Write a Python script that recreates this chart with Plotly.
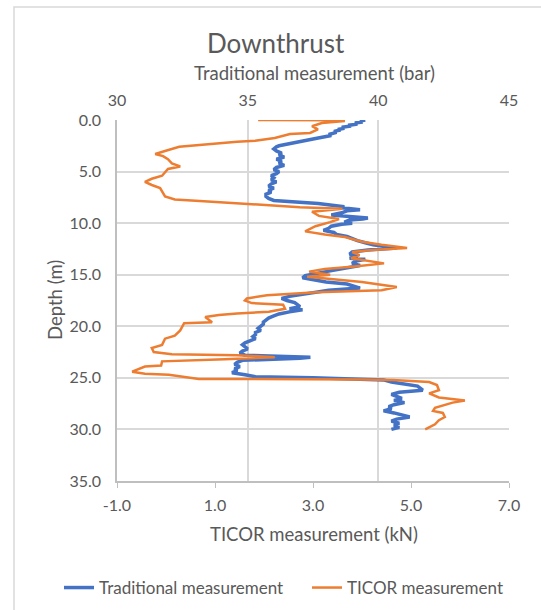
import plotly.graph_objects as go

# ---------------- data ----------------
trad_depth = [0.0, 0.1, 0.2, 0.3, 0.4, 0.5, 0.6, 0.7, 0.8, 0.9, 1.0, 1.1, 1.2, 1.3, 1.4, 1.5, 1.6, 1.7, 1.8, 1.9,
              2.0, 2.1, 2.2, 2.3, 2.4, 2.5, 2.6, 2.8, 3.0, 3.2, 3.4, 3.6, 3.8, 4.0, 4.2, 4.4, 4.6, 4.8, 5.0, 5.2,
              5.4, 5.6, 5.8, 6.0, 6.2, 6.4, 6.6, 6.8, 7.0, 7.2, 7.4, 7.6, 7.8, 7.9, 8.0, 8.1, 8.2, 8.3, 8.4, 8.5,
              8.6, 8.7, 8.8, 9.0, 9.2, 9.3, 9.4, 9.5, 9.6, 9.7, 9.9, 10.0, 10.1, 10.3, 10.5, 10.7, 10.9, 11.1, 11.3, 11.5,
              11.7, 11.9, 12.1, 12.3, 12.4, 12.6, 12.8, 13.0, 13.2, 13.4, 13.5, 13.7, 13.9, 14.1, 14.3, 14.5, 14.7, 14.9, 15.1, 15.3,
              15.5, 15.7, 15.9, 16.1, 16.3, 16.5, 16.7, 16.9, 17.1, 17.3, 17.5, 17.7, 17.9, 18.1, 18.3, 18.4, 18.6, 18.8, 19.0, 19.2,
              19.4, 19.6, 19.8, 20.0, 20.2, 20.4, 20.6, 20.8, 21.0, 21.2, 21.4, 21.6, 21.8, 22.0, 22.2, 22.4, 22.6, 22.8, 22.9, 23.0,
              23.1, 23.2, 23.3, 23.5, 23.7, 23.9, 24.1, 24.3, 24.5, 24.7, 24.9, 25.0, 25.1, 25.2, 25.4, 25.6, 25.8, 26.0, 26.2, 26.4,
              26.6, 26.8, 27.0, 27.2, 27.4, 27.6, 27.8, 28.0, 28.2, 28.4, 28.6, 28.8, 29.0, 29.2, 29.4, 29.6, 29.8, 30.0]
trad_bar = [39.5, 39.3, 39.4, 39.1, 39.2, 38.9, 38.9, 38.6, 38.7, 38.5, 38.5, 38.3, 38.4, 38.2, 38.1, 38.2, 37.9, 37.8, 37.6, 37.4,
            37.2, 37.0, 36.7, 36.5, 36.3, 36.2, 36.1, 36.0, 36.1, 36.3, 36.2, 36.4, 36.1, 36.3, 36.2, 36.4, 36.1, 36.0, 36.2, 36.1,
            35.9, 36.0, 35.9, 36.1, 35.9, 35.8, 36.0, 35.8, 35.9, 35.7, 35.7, 35.8, 36.0, 36.7, 37.2, 37.7, 38.0, 38.4, 38.7, 38.6,
            39.1, 39.3, 38.8, 38.6, 38.2, 38.8, 39.2, 39.6, 39.4, 38.9, 38.7, 39.0, 38.6, 38.2, 38.1, 37.9, 38.3, 38.4, 38.8, 39.0,
            39.2, 39.5, 39.8, 40.3, 40.7, 39.6, 39.0, 38.9, 39.2, 38.9, 39.5, 39.1, 39.0, 39.3, 38.8, 38.3, 38.0, 37.6, 37.2, 37.1,
            37.6, 38.0, 38.8, 39.1, 39.3, 38.1, 37.6, 36.9, 36.6, 36.3, 36.5, 36.8, 36.9, 37.0, 36.6, 37.1, 36.6, 36.2, 36.0, 35.8,
            35.7, 35.6, 35.6, 35.5, 35.4, 35.5, 35.3, 35.3, 35.2, 35.3, 35.1, 34.9, 34.8, 34.9, 35.0, 34.8, 34.7, 34.9, 36.2, 37.4,
            37.0, 35.4, 34.8, 34.6, 34.5, 34.7, 34.5, 34.6, 34.4, 34.9, 35.3, 37.5, 39.8, 40.2, 40.5, 41.0, 41.5, 41.6, 41.7, 40.8,
            40.5, 40.7, 40.9, 40.6, 41.0, 40.6, 40.4, 40.5, 40.2, 40.6, 40.9, 41.2, 40.7, 40.5, 40.8, 40.6, 40.8, 40.5]

ticor_depth = [0.0, 0.02, 0.1, 0.3, 0.6, 0.9, 1.25, 1.35, 1.75, 2.0, 2.1, 2.4, 2.6, 3.0, 3.3, 3.5, 3.8, 4.2, 4.5, 4.75,
               5.4, 5.7, 6.0, 6.3, 6.6, 7.4, 7.7, 7.85, 8.05, 8.25, 8.45, 8.6, 8.9, 9.3, 9.6, 9.9, 10.3, 10.6, 10.8, 11.1,
               11.35, 11.8, 12.1, 12.4, 12.6, 12.8, 13.1, 13.4, 13.9, 14.2, 14.45, 14.7, 15.0, 15.2, 15.5, 15.7, 16.2, 16.5, 16.7, 17.0,
               17.3, 17.5, 17.75, 17.9, 18.3, 18.6, 18.75, 18.9, 19.1, 19.6, 19.7, 20.4, 20.9, 21.2, 21.8, 22.1, 22.5, 22.7, 22.8, 23.0,
               23.2, 23.4, 23.8, 23.9, 24.4, 24.6, 24.7, 24.9, 25.1, 25.15, 25.2, 25.4, 25.7, 26.2, 26.5, 26.9, 27.2, 27.4, 27.9, 28.2,
               28.4, 28.8, 29.1, 29.5, 29.8, 30.0]
ticor_kn = [1.88, 3.5, 3.65, 3.18, 2.98, 3.10, 2.94, 2.53, 2.22, 1.82, 1.45, 0.80, 0.27, -0.02, -0.22, -0.06, 0.04, 0.12, 0.29, 0.04,
            -0.08, -0.29, -0.43, -0.29, -0.12, -0.02, 0.18, 0.69, 1.45, 2.22, 2.73, 3.60, 2.98, 3.12, 3.53, 3.35, 3.05, 2.92, 2.84, 3.24,
            3.65, 4.0, 4.4, 4.92, 4.2, 3.8, 3.95, 3.78, 4.45, 3.85, 3.24, 2.92, 3.35, 2.88, 3.49, 4.0, 4.71, 4.4, 3.08, 2.06,
            1.65, 1.61, 1.75, 2.39, 2.43, 2.10, 1.45, 1.08, 0.80, 0.94, 0.37, 0.29, 0.18, -0.02, -0.08, -0.29, -0.25, 0.12, 1.45, 2.22,
            1.2, -0.08, -0.10, -0.43, -0.69, -0.43, 0.06, 0.35, 0.67, 4.0, 4.63, 5.37, 5.53, 5.57, 5.37, 5.57, 6.10, 5.85, 5.49, 5.45,
            5.65, 5.69, 5.57, 5.49, 5.37, 5.29]

depth_ticks = [0, 5, 10, 15, 20, 25, 30, 35]
bar_ticks = [30, 35, 40, 45]
kn_ticks = [-1, 1, 3, 5, 7]

# ---------------- figure ----------------
FONT = "Lato"
TXT = "#595959"
GRID = "#d9d9d9"
AXL = "#bfbfbf"

fig = go.Figure()
fig.add_trace(go.Scatter(x=trad_bar, y=trad_depth, mode="lines", name="Traditional measurement",
                         line=dict(color="#4472C4", width=3.5), xaxis="x", yaxis="y"))
fig.add_trace(go.Scatter(x=ticor_kn, y=ticor_depth, mode="lines", name="TICOR measurement",
                         line=dict(color="#ED7D31", width=2.5), xaxis="x2", yaxis="y"))

W, H = 541, 610
L, R, T, B = 117, 32, 120, 129
pw, ph = W - L - R, H - T - B


def px(x):
    return (x - L) / pw


def py(y):
    return (H - B - y) / ph


fig.update_layout(
    width=W, height=H,
    margin=dict(l=L, r=R, t=T, b=B, autoexpand=False),
    paper_bgcolor="white", plot_bgcolor="white",
    font=dict(family=FONT, color=TXT, size=16),
    showlegend=True,
    legend=dict(orientation="h", x=px(59), xanchor="left", y=py(588), yanchor="middle",
                font=dict(size=17, color=TXT), bgcolor="rgba(0,0,0,0)",
                entrywidth=203, tracegroupgap=0),
    xaxis=dict(side="top", range=[30, 45], tickvals=bar_ticks, ticktext=[str(v) for v in bar_ticks],
               showgrid=True, gridcolor=GRID, gridwidth=1.5, zeroline=False,
               showline=False, ticks="", ticklabelstandoff=10,
               tickfont=dict(size=16, color=TXT)),
    xaxis2=dict(overlaying="x", side="bottom", range=[-1, 7], tickvals=kn_ticks,
                ticktext=[f"{v:.1f}" for v in kn_ticks], showgrid=False, zeroline=False,
                showline=True, linecolor=AXL, linewidth=1.5, ticks="outside", ticklen=5, tickcolor=AXL,
                ticklabelstandoff=4, tickfont=dict(size=16, color=TXT), anchor="y"),
    yaxis=dict(range=[35, 0], tickvals=depth_ticks, ticktext=[f"{v:.1f}" for v in depth_ticks],
               showgrid=True, gridcolor=GRID, gridwidth=1.5, zeroline=False,
               showline=True, linecolor=AXL, linewidth=1.5, ticks="", ticklabelstandoff=11,
               tickfont=dict(size=16, color=TXT)),
    annotations=[
        dict(text="Downthrust", x=px(276), y=py(43), xref="paper", yref="paper", showarrow=False,
             xanchor="center", yanchor="middle", font=dict(size=26, color=TXT, family=FONT)),
        dict(text="Traditional measurement (bar)", x=px(314), y=py(73), xref="paper", yref="paper",
             showarrow=False, xanchor="center", yanchor="middle", font=dict(size=18.5, color=TXT, family=FONT)),
        dict(text="TICOR measurement (kN)", x=px(314), y=py(534), xref="paper", yref="paper",
             showarrow=False, xanchor="center", yanchor="middle", font=dict(size=18.5, color=TXT, family=FONT)),
        dict(text="Depth (m)", x=px(55), y=py(300), xref="paper", yref="paper", textangle=-90,
             showarrow=False, xanchor="center", yanchor="middle", font=dict(size=18.5, color=TXT, family=FONT)),
    ],
    shapes=[
        dict(type="rect", xref="paper", yref="paper", x0=px(14), x1=px(548), y0=py(620), y1=py(7),
             line=dict(color=GRID, width=1.5), fillcolor="rgba(0,0,0,0)", layer="below"),
    ],
)

fig.write_html("out.html")
